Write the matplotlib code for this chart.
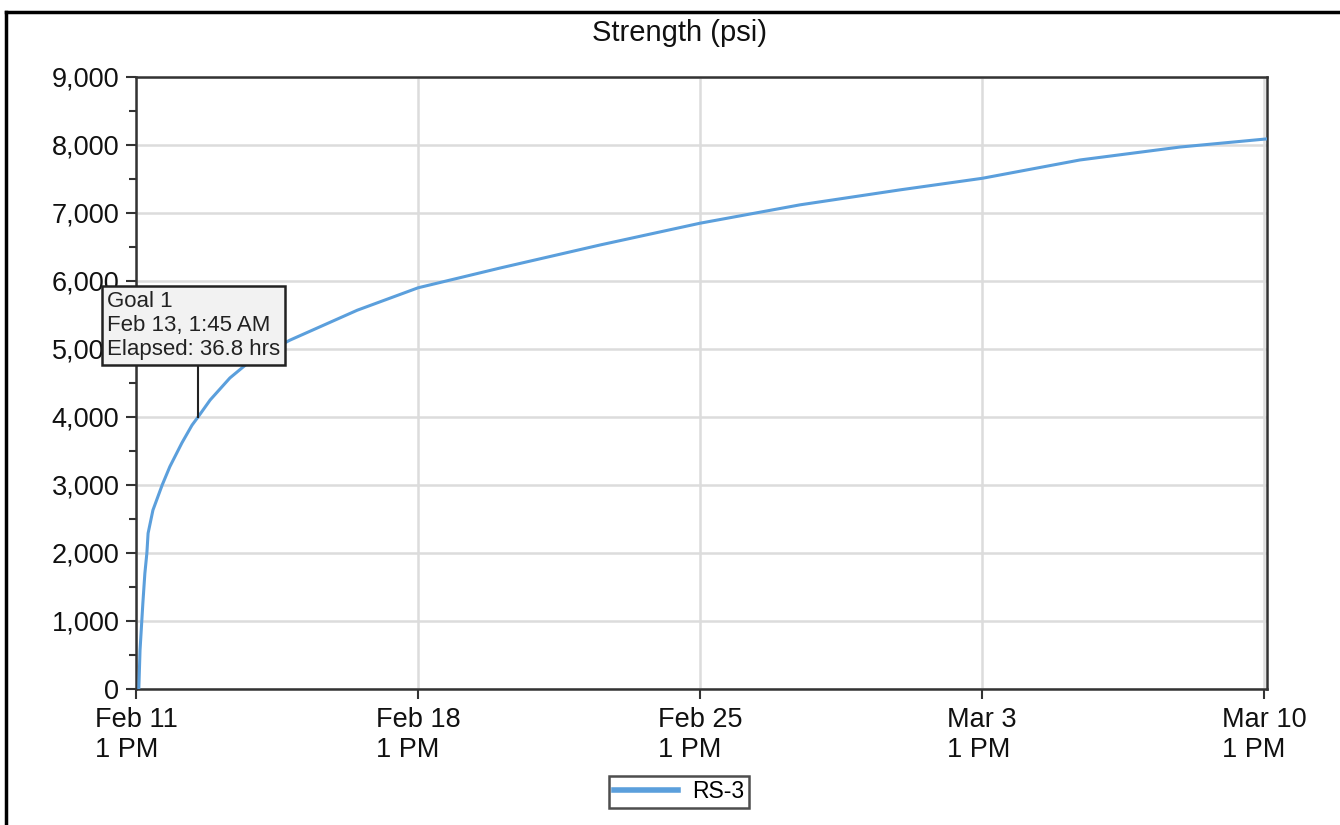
import matplotlib.pyplot as plt
import matplotlib.dates as mdates
from matplotlib.lines import Line2D
from matplotlib.ticker import FuncFormatter, MultipleLocator
import pandas as pd

# -----------------------------------------------------------------------------------------
# data (days after Feb 11 1 PM, psi)
start = pd.Timestamp('2020-02-11 13:00')
elapsedDays = [0.07, 0.1, 0.17, 0.22, 0.27, 0.30, 0.42, 0.65, 0.84, 1.14, 1.39, 1.54,
               1.84, 2.33, 2.83, 3.82, 5.49, 7.0, 9.03, 11.52, 14.0, 16.48, 18.96,
               21.0, 23.43, 25.91, 28.07]
strength = [0, 570, 1260, 1700, 2000, 2290, 2630, 3000, 3270, 3620, 3880, 4000,
            4250, 4574, 4820, 5130, 5570, 5900, 6190, 6530, 6850, 7120, 7340,
            7510, 7780, 7970, 8090]
seriesName = 'RS-3'

goalTime = pd.Timestamp('2020-02-13 01:45')
goalValue = 4000
goalText = 'Goal 1\nFeb 13, 1:45 AM\nElapsed: 36.8 hrs'

tickDays = [0, 7, 14, 21, 28]

lineColor = '#5b9fdc'
gridColor = '#dcdcdc'

plt.rcParams['font.family'] = ['Liberation Sans', 'DejaVu Sans']

times = [start + pd.Timedelta(days=d) for d in elapsedDays]
ticks = [start + pd.Timedelta(days=d) for d in tickDays]

fig = plt.figure(figsize=(13.4, 8.25), dpi=100)
ax = fig.add_axes([136 / 1340, 1 - 689 / 825, (1267 - 136) / 1340, (689 - 77) / 825])

ax.plot(times, strength, color=lineColor, lw=2.2, label=seriesName, zorder=3)

ax.set_xlim(start, start + pd.Timedelta(days=28.07))
ax.set_ylim(0, 9000)
ax.set_xticks(ticks)
ax.xaxis.set_major_formatter(FuncFormatter(
    lambda v, p: mdates.num2date(v).strftime('%b %d\n%I %p').replace(' 0', ' ').replace('\n0', '\n')))
ax.yaxis.set_major_locator(MultipleLocator(1000))
ax.yaxis.set_minor_locator(MultipleLocator(500))
ax.yaxis.set_major_formatter(FuncFormatter(lambda v, p: '{:,.0f}'.format(v)))

ax.grid(True, color=gridColor, lw=1.8, zorder=0)
ax.set_axisbelow(True)
for s in ax.spines.values():
    s.set_color('#333333')
    s.set_linewidth(1.8)
ax.tick_params(axis='both', which='major', labelsize=19.5, length=7, width=1.5,
               color='#333333', labelcolor='#111111')
ax.tick_params(axis='y', which='major', pad=5)
ax.tick_params(axis='x', which='major', pad=6)
ax.tick_params(axis='y', which='minor', length=5, width=1.5, color='#333333')
for lbl in ax.get_xticklabels():
    lbl.set_multialignment('left')
    lbl.set_linespacing(1.2)

fig.text(679 / 1340, 1 - 33 / 825, 'Strength (psi)', ha='center', va='center',
         fontsize=21, color='#111111')

# goal marker: vertical line from curve up to the tooltip box
ax.plot([goalTime, goalTime], [goalValue, 4760], color='#222222', lw=1.5, zorder=4)
ax.text(start - pd.Timedelta(days=0.72), 5345, goalText, fontsize=16, va='center', ha='left',
        linespacing=1.2, color='#222222', zorder=5,
        bbox=dict(boxstyle='square,pad=0.22', fc='#f2f2f2', ec='#222222', lw=1.8))

leg = fig.legend(loc='center', bbox_to_anchor=(679 / 1340, 1 - 792 / 825), fontsize=16.5,
                 frameon=True, fancybox=False, handlelength=2.8, borderpad=0.2,
                 handletextpad=0.6)
leg.get_frame().set_edgecolor('#222222')
leg.get_frame().set_linewidth(1.8)
leg.get_lines()[0].set_linewidth(4)

# outer frame (left and top visible)
fig.add_artist(Line2D([6 / 1340, 6 / 1340], [0, 1 - 12 / 825], color='black', lw=2.5))
fig.add_artist(Line2D([6 / 1340, 1], [1 - 12 / 825, 1 - 12 / 825], color='black', lw=2.5))

fig.savefig('out.png', dpi=100)
